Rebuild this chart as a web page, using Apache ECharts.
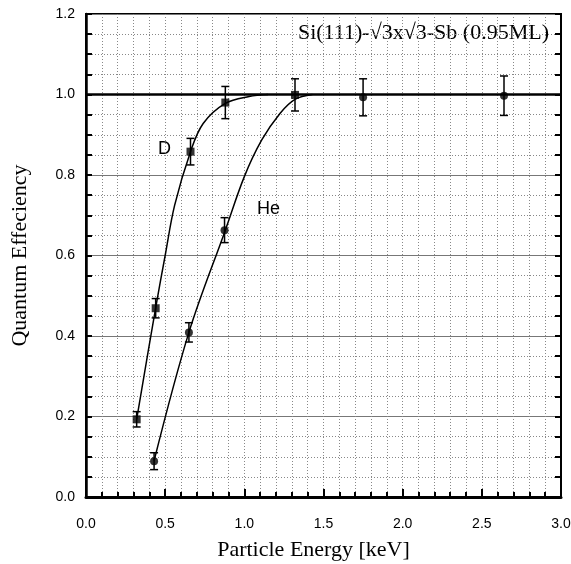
<!DOCTYPE html>
<html>
<head>
<meta charset="utf-8">
<script src="https://cdn.jsdelivr.net/npm/echarts@6/dist/echarts.min.js"></script>
<style>
  html, body { margin: 0; padding: 0; background: #fff; }
  #chart { width: 571px; height: 564px; }
</style>
</head>
<body>
<div id="chart"></div>
<script>
// measured points (D = squares, He = circles)
var dEnergy = [0.32, 0.44, 0.66, 0.88, 1.32];
var dEff    = [0.193, 0.469, 0.858, 0.98, 0.999];
var dErr    = [0.019, 0.024, 0.033, 0.04, 0.04];

var heEnergy = [0.43, 0.65, 0.875, 1.75, 2.64];
var heEff    = [0.089, 0.409, 0.663, 0.993, 0.997];
var heErr    = [0.021, 0.024, 0.031, 0.046, 0.049];

// fitted curves
var dFitX = [0.32, 0.44, 0.50, 0.56, 0.66, 0.74, 0.88, 1.03, 1.15];
var dFitY = [0.193, 0.47, 0.60, 0.725, 0.858, 0.928, 0.978, 0.995, 1.0];
var heFitX = [0.43, 0.65, 0.88, 1.0, 1.11, 1.225, 1.32, 1.43];
var heFitY = [0.09, 0.409, 0.663, 0.796, 0.887, 0.953, 0.988, 1.0];

var unityLevel = 1.0;
var titleText = 'Si(111)-\u221A3x\u221A3-Sb (0.95ML)';

function zip(a, b) {
    var out = [];
    for (var i = 0; i < a.length; i++) out.push([a[i], b[i]]);
    return out;
}
function errData(x, y, e) {
    var out = [];
    for (var i = 0; i < x.length; i++) out.push([x[i], y[i] - e[i], y[i] + e[i]]);
    return out;
}
function renderErr(params, api) {
    var lo = api.coord([api.value(0), api.value(1)]);
    var hi = api.coord([api.value(0), api.value(2)]);
    var w = 4;
    var st = { stroke: '#000', lineWidth: 1.5 };
    return {
        type: 'group',
        children: [
            { type: 'line', shape: { x1: lo[0], y1: lo[1], x2: hi[0], y2: hi[1] }, style: st },
            { type: 'line', shape: { x1: lo[0] - w, y1: lo[1], x2: lo[0] + w, y2: lo[1] }, style: st },
            { type: 'line', shape: { x1: hi[0] - w, y1: hi[1], x2: hi[0] + w, y2: hi[1] }, style: st }
        ]
    };
}

var myChart = echarts.init(document.getElementById('chart'));

var tickFont = { fontFamily: 'Liberation Sans', fontSize: 14, color: '#000' };
var dotted = { color: '#888', width: 1, type: [1, 2] };

var option = {
    animation: false,
    backgroundColor: '#fff',
    grid: {
        left: 86, right: 10, top: 14, bottom: 67,
        outerBoundsMode: 'none',
        containLabel: false,
        show: true, borderColor: '#000', borderWidth: 2
    },
    xAxis: [{
        type: 'value',
        min: 0, max: 3, interval: 0.5,
        name: 'Particle Energy [keV]',
        nameLocation: 'middle',
        nameGap: 42,
        nameTextStyle: { fontFamily: 'Liberation Serif', fontSize: 22, color: '#000', padding: [0, 20, 0, 0] },
        axisLine: { lineStyle: { color: '#000', width: 3 } },
        axisTick: { inside: true, length: 8, lineStyle: { color: '#000', width: 2 } },
        minorTick: { show: true, splitNumber: 5, length: 5, lineStyle: { color: '#000', width: 2 } },
        axisLabel: Object.assign({ margin: 20, formatter: function (v) { return v.toFixed(1); } }, tickFont),
        splitLine: { show: true, lineStyle: dotted },
        minorSplitLine: { show: true, lineStyle: dotted }
    }],
    yAxis: [{
        type: 'value',
        min: 0, max: 1.2, interval: 0.2,
        name: 'Quantum Effeciency',
        nameLocation: 'middle',
        nameGap: 55,
        nameTextStyle: { fontFamily: 'Liberation Serif', fontSize: 22, color: '#000' },
        axisLine: { lineStyle: { color: '#000', width: 2.5 } },
        axisTick: { inside: true, length: 6, lineStyle: { color: '#000', width: 2 } },
        minorTick: { show: true, splitNumber: 4, length: 6, lineStyle: { color: '#000', width: 2 } },
        axisLabel: Object.assign({ margin: 11, formatter: function (v) { return v.toFixed(1); } }, tickFont),
        splitLine: { show: true, lineStyle: { color: '#777', width: 1 } },
        minorSplitLine: { show: true, lineStyle: dotted }
    }, {
        type: 'value',
        position: 'right',
        min: 0, max: 1.2, interval: 0.2,
        axisLine: { show: true, lineStyle: { color: '#000', width: 2 } },
        axisTick: { inside: true, length: 6, lineStyle: { color: '#000', width: 2 } },
        minorTick: { show: true, splitNumber: 4, length: 6, lineStyle: { color: '#000', width: 2 } },
        axisLabel: { show: false },
        splitLine: { show: false }
    }],
    graphic: [
        { type: 'text', right: 22, top: 22,
          style: { text: titleText, font: '22px "Liberation Serif"', fill: '#000' } },
        { type: 'text', x: 158, y: 140,
          style: { text: 'D', font: '18px "Liberation Sans"', fill: '#000' } },
        { type: 'text', x: 257, y: 200,
          style: { text: 'He', font: '18px "Liberation Sans"', fill: '#000' } }
    ],
    series: [
        {
            name: 'D fit', type: 'line', data: zip(dFitX, dFitY),
            smooth: 0.35, showSymbol: false,
            lineStyle: { color: '#000', width: 1.5 },
            markLine: {
                silent: true, symbol: ['none', 'none'], label: { show: false },
                lineStyle: { color: '#000', width: 2.5, type: 'solid' },
                data: [{ yAxis: unityLevel }]
            },
            z: 3
        },
        {
            name: 'He fit', type: 'line', data: zip(heFitX, heFitY),
            smooth: 0.35, showSymbol: false,
            lineStyle: { color: '#000', width: 1.5 },
            z: 3
        },
        { name: 'D err', type: 'custom', renderItem: renderErr, data: errData(dEnergy, dEff, dErr), z: 4 },
        { name: 'He err', type: 'custom', renderItem: renderErr, data: errData(heEnergy, heEff, heErr), z: 4 },
        {
            name: 'D', type: 'scatter', data: zip(dEnergy, dEff),
            symbol: 'rect', symbolSize: 8, itemStyle: { color: '#000' }, z: 5
        },
        {
            name: 'He', type: 'scatter', data: zip(heEnergy, heEff),
            symbol: 'circle', symbolSize: 8, itemStyle: { color: '#000' }, z: 5
        }
    ]
};

myChart.setOption(option);
</script>
</body>
</html>
